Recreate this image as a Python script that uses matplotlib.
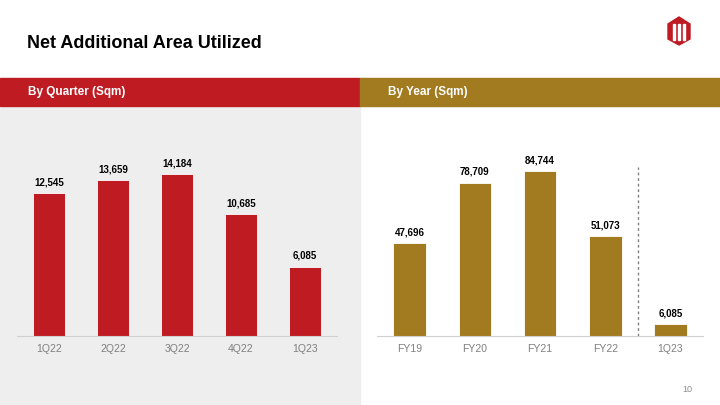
import matplotlib.pyplot as plt
from matplotlib.patches import Rectangle, Polygon

quarters = ["1Q22", "2Q22", "3Q22", "4Q22", "1Q23"]
quarter_vals = [12545, 13659, 14184, 10685, 6085]
years = ["FY19", "FY20", "FY21", "FY22", "1Q23"]
year_vals = [47696, 78709, 84744, 51073, 6085]

RED = "#BE1B22"
GOLD = "#A27A1F"
W, H = 720, 405

plt.rcParams['font.family'] = ['Liberation Sans', 'DejaVu Sans']
fig = plt.figure(figsize=(7.2, 4.05), dpi=100)

def px(x0, y0, x1, y1):
    # pixel box (top-left origin) -> figure coords
    return [x0 / W, 1 - y1 / H, (x1 - x0) / W, (y1 - y0) / H]

# backgrounds
fig.patches.append(Rectangle((0, 0), 360 / W, 1 - 106 / H, transform=fig.transFigure,
                             color="#eeeeee", zorder=-5))
fig.patches.append(Rectangle((0, 1 - 106 / H), 360 / W, 28 / H, transform=fig.transFigure,
                             color=RED, zorder=-5))
fig.patches.append(Rectangle((360 / W, 1 - 106 / H), 360 / W, 28 / H, transform=fig.transFigure,
                             color=GOLD, zorder=-5))

fig.text(27 / W, 1 - 44 / H, "Net Additional Area Utilized", fontsize=13, fontweight="bold",
         va="center", ha="left")
fig.text(28 / W, 1 - 92 / H, "By Quarter (Sqm)", fontsize=8.5, fontweight="bold",
         color="white", va="center")
fig.text(388 / W, 1 - 92 / H, "By Year (Sqm)", fontsize=8.5, fontweight="bold",
         color="white", va="center")
fig.text(692 / W, 1 - 390 / H, "10", fontsize=6.5, color="#8c8c8c", ha="right", va="center")

# logo (rough hexagon mark)
cx, cy = 679, 31
hexpts = [(cx - 11, cy - 7), (cx, cy - 14), (cx + 11, cy - 7), (cx + 11, cy + 8),
          (cx, cy + 14), (cx - 11, cy + 8)]
fig.patches.append(Polygon([(x / W, 1 - y / H) for x, y in hexpts], closed=True,
                           transform=fig.transFigure, color=RED, zorder=2))
for xl in (cx - 5, cx, cx + 5):
    fig.patches.append(Rectangle(((xl - 1) / W, 1 - (cy + 9) / H), 2 / W, 16 / H,
                                 transform=fig.transFigure, color="white", zorder=3))


def bar_panel(rect, cats, vals, color, ymax):
    ax = fig.add_axes(rect)
    ax.patch.set_alpha(0)
    x = range(len(cats))
    ax.bar(x, vals, width=0.5, color=color, edgecolor="white", linewidth=0.6)
    for xi, v in zip(x, vals):
        ax.text(xi, v + ymax * 0.025, f"{v:,}", ha="center", va="bottom",
                fontsize=7, fontweight="bold")
    ax.set_xlim(-0.5, len(cats) - 0.5)
    ax.set_ylim(0, ymax)
    ax.set_xticks(list(x))
    ax.set_xticklabels(cats, fontsize=7.5, color="#7f7f7f")
    ax.tick_params(axis="x", length=0, pad=6)
    ax.set_yticks([])
    for s in ("top", "right", "left"):
        ax.spines[s].set_visible(False)
    ax.spines["bottom"].set_color("#d0d0d0")
    return ax

bar_panel(px(17, 110, 337, 336), quarters, quarter_vals, RED, 19800)
ax2 = bar_panel(px(377, 110, 703, 336), years, year_vals, GOLD, 115900)
ax2.axvline(3.5, ymin=0, ymax=0.75, color="#808080", linestyle=(0, (2, 2)), linewidth=1)

fig.savefig("out.png", dpi=100)
